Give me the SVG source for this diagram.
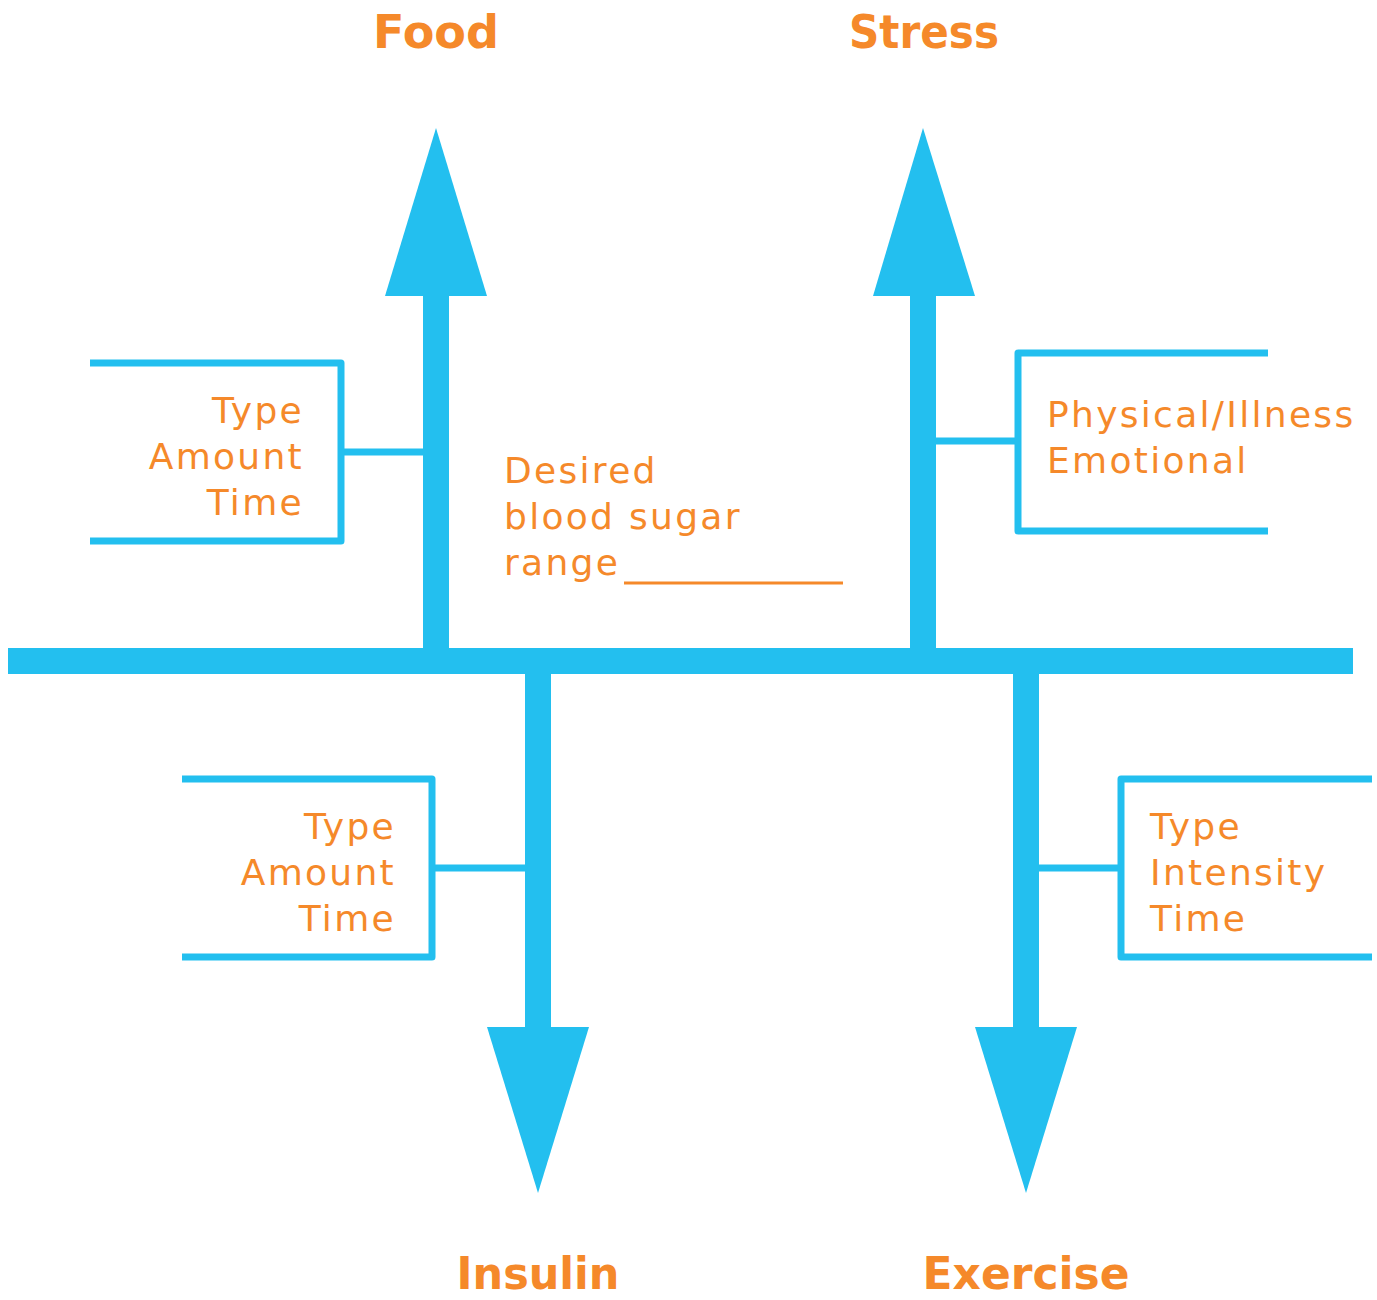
<svg xmlns="http://www.w3.org/2000/svg" width="1377" height="1300" viewBox="0 0 1377 1300">
<style>
.bar{fill:#23BFEF}
.br{fill:none;stroke:#23BFEF;stroke-width:7;stroke-linejoin:round}
.title{font-family:"DejaVu Sans",sans-serif;font-weight:bold;font-size:46px;fill:#F5892A;text-anchor:middle}
.bt{font-size:44px}
.lbl{font-family:"DejaVu Sans",sans-serif;font-size:36px;fill:#F5892A;letter-spacing:2.3px}
.r{text-anchor:end}
</style>
<rect width="1377" height="1300" fill="#fff"/>
<g id="connectors">
<rect class="bar" x="8" y="648" width="1345" height="26"/>
<rect class="bar" x="423" y="290" width="26" height="360"/>
<polygon class="bar" points="436,128 487,296 385,296"/>
<rect class="bar" x="910" y="290" width="26" height="360"/>
<polygon class="bar" points="923,128 975,296 873,296"/>
<rect class="bar" x="525" y="672" width="26" height="360"/>
<polygon class="bar" points="538,1193 589,1027 487,1027"/>
<rect class="bar" x="1013" y="672" width="26" height="360"/>
<polygon class="bar" points="1026,1193 1077,1027 975,1027"/>
<line class="br" x1="341" y1="452" x2="423" y2="452"/>
<line class="br" x1="936" y1="441" x2="1018" y2="441"/>
<line class="br" x1="432" y1="868" x2="525" y2="868"/>
<line class="br" x1="1039" y1="868" x2="1121" y2="868"/>
</g>
<g id="food">
<text class="title" x="436" y="48" textLength="126" lengthAdjust="spacingAndGlyphs">Food</text>
<polyline class="br" points="90,363 341,363 341,541 90,541"/>
<text class="lbl r" x="304" y="423">Type</text>
<text class="lbl r" x="304" y="469">Amount</text>
<text class="lbl r" x="304" y="515">Time</text>
</g>
<g id="stress">
<text class="title" x="924" y="48" textLength="150" lengthAdjust="spacingAndGlyphs">Stress</text>
<polyline class="br" points="1268,353 1018,353 1018,531 1268,531"/>
<text class="lbl" x="1047" y="427">Physical/Illness</text>
<text class="lbl" x="1047" y="473">Emotional</text>
</g>
<g id="insulin">
<text class="title bt" x="538" y="1289" textLength="163" lengthAdjust="spacingAndGlyphs">Insulin</text>
<polyline class="br" points="182,779 432,779 432,957 182,957"/>
<text class="lbl r" x="396" y="839">Type</text>
<text class="lbl r" x="396" y="885">Amount</text>
<text class="lbl r" x="396" y="931">Time</text>
</g>
<g id="exercise">
<text class="title bt" x="1026" y="1289" textLength="207" lengthAdjust="spacingAndGlyphs">Exercise</text>
<polyline class="br" points="1372,779 1121,779 1121,957 1372,957"/>
<text class="lbl" x="1150" y="839">Type</text>
<text class="lbl" x="1150" y="885">Intensity</text>
<text class="lbl" x="1150" y="931">Time</text>
</g>
<g id="range">
<text class="lbl" x="504" y="483">Desired</text>
<text class="lbl" x="504" y="529">blood sugar</text>
<text class="lbl" x="504" y="575">range</text>
<line x1="624" y1="583" x2="843" y2="583" stroke="#F5892A" stroke-width="3"/>
</g>
</svg>
